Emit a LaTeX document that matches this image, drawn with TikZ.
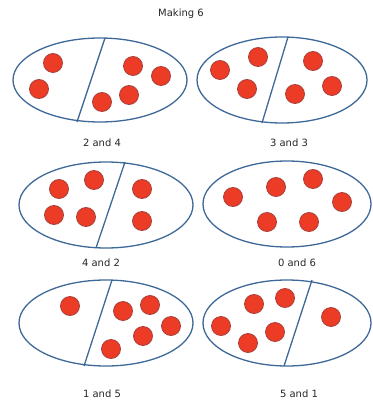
\documentclass[tikz,border=0pt]{standalone}
\usepackage{fontspec}
\setmainfont{DejaVu Sans}
\definecolor{rimblue}{RGB}{62,104,152}
\definecolor{dotred}{RGB}{236,60,38}
\definecolor{dotrim}{RGB}{168,64,60}

\begin{document}
\begin{tikzpicture}[x=1pt,y=-1pt,
  tray/.style={draw=rimblue,line width=1.3pt},
  counter/.style={fill=dotred,draw=dotrim,line width=0.8pt},
  caption/.style={font=\fontsize{10}{12}\selectfont,text=black!85}]
  \useasboundingbox (0,0) rectangle (372,403);
  \node[caption] (title) at (181,14) {Making 6};
  % top row
  \draw[tray] (100,80) ellipse [x radius=87,y radius=42]; \draw[tray] (105,38)--(77,122);
  \foreach \p in {(53,63),(39,89),(133,66),(161,76),(102,102),(129,95)} \draw[counter] \p circle (9.5);
  \draw[tray] (282,80) ellipse [x radius=85,y radius=43]; \draw[tray] (288,37)--(262,123);
  \foreach \p in {(220,70),(258,57),(247,89),(313,61),(332,86),(295,94)} \draw[counter] \p circle (9.5);
  \node[caption] (twofour) at (102,143) {2 and 4}; \node[caption] (threethree) at (289,143) {3 and 3};
  % middle row
  \draw[tray] (106,205) ellipse [x radius=87,y radius=43]; \draw[tray] (125,162)--(96,248);
  \foreach \p in {(59,189),(94,180),(54,215),(86,217),(142,189),(142,221)} \draw[counter] \p circle (9.5);
  \draw[tray] (287,204) ellipse [x radius=84,y radius=43];
  \foreach \p in {(233,197),(276,187),(313,179),(342,202),(267,222),(309,222)} \draw[counter] \p circle (9.5);
  \node[caption] (fourtwo) at (101,263) {4 and 2}; \node[caption] (zerosix) at (297,263) {0 and 6};
  % bottom row
  \draw[tray] (106,323) ellipse [x radius=87,y radius=43]; \draw[tray] (112,280)--(84,366);
  \foreach \p in {(70,306),(123,311),(150,305),(171,326),(143,336),(111,349)} \draw[counter] \p circle (9.5);
  \draw[tray] (287,323) ellipse [x radius=84,y radius=43]; \draw[tray] (312,280)--(284,366);
  \foreach \p in {(221,326),(254,304),(285,298),(275,332),(248,343),(331,317)} \draw[counter] \p circle (9.5);
  \node[caption] (onefive) at (102,394) {1 and 5}; \node[caption] (fiveone) at (299,394) {5 and 1};
\end{tikzpicture}
\end{document}
